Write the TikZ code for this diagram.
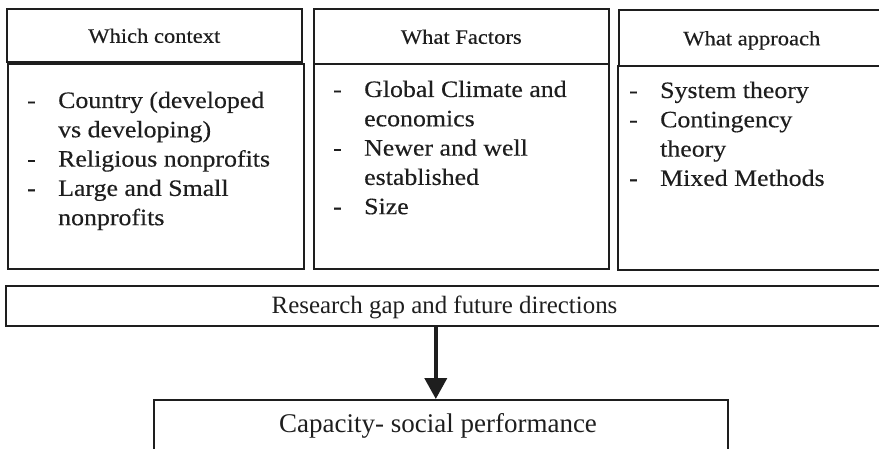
\documentclass[tikz,border=0pt]{standalone}
\usepackage{fontspec}
\setmainfont{Liberation Serif}
\newfontfamily\colfont{Liberation Serif}[FakeStretch=1.1,FakeBold=0.35]
\usetikzlibrary{arrows.meta}

\definecolor{ink}{HTML}{1E1E1E}

\tikzset{
  box/.style={draw=ink, line width=1.6pt, inner sep=0pt, anchor=north west},
  headtext/.style={font=\colfont\fontsize{20.5}{24}\selectfont, text=ink},
  listtext/.style={font=\colfont\fontsize{23.5}{29.3}\selectfont, text=ink,
                   inner sep=0pt, anchor=base west},
  bigtext/.style={text=ink, inner sep=0pt, anchor=base},
  arr/.style={draw=ink, line width=4pt, -{Triangle[width=22pt,length=21pt]}},
}

\begin{document}
\begin{tikzpicture}[x=1pt,y=-1pt]
  \useasboundingbox (0,0) rectangle (879,449);
  \clip (0,0) rectangle (879,449);

  % column headers
  \node[box, minimum width=295pt, minimum height=53pt, headtext,
        text height=15pt, text depth=0pt] (h1) at (6,8) {Which context};
  \node[box, minimum width=295pt, minimum height=55pt, headtext,
        text height=15pt, text depth=0pt] (h2) at (313,8) {What Factors};
  \node[box, minimum width=266pt, minimum height=56pt, headtext,
        text height=15pt, text depth=0pt] (h3) at (618,9) {What approach};

  % column bodies
  \node[box, minimum width=296pt, minimum height=205pt] (b1) at (7,63) {};
  \node[box, minimum width=295pt, minimum height=205pt] (b2) at (313,63) {};
  \node[box, minimum width=267pt, minimum height=204pt] (b3) at (617,65) {};

  % bullet lists
  \node[listtext] (l1) at (27,108) {%
    \begin{tabular}[t]{@{}p{31pt}@{}l@{}}
      - & Country (developed\\
        & vs developing)\\
      - & Religious nonprofits\\
      - & Large and Small\\
        & nonprofits
    \end{tabular}};
  \node[listtext] (l2) at (333,97) {%
    \begin{tabular}[t]{@{}p{31pt}@{}l@{}}
      - & Global Climate and\\
        & economics\\
      - & Newer and well\\
        & established\\
      - & Size
    \end{tabular}};
  \node[listtext] (l3) at (629,98) {%
    \begin{tabular}[t]{@{}p{31pt}@{}l@{}}
      - & System theory\\
      - & Contingency\\
        & theory\\
      - & Mixed Methods
    \end{tabular}};

  % summary and outcome
  \node[box, minimum width=879pt, minimum height=40pt] (gap) at (5,285) {};
  \node[bigtext, font=\fontsize{24.9}{30}\selectfont] (gapt) at (444.5,314)
        {Research gap and future directions};
  \node[box, minimum width=574pt, minimum height=60pt] (cap) at (153,399) {};
  \node[bigtext, font=\fontsize{27}{32}\selectfont] (capt) at (438,432)
        {Capacity- social performance};

  \draw[arr] ([xshift=-9.5pt]gap.south) -- ([xshift=-9.5pt]gap.south |- cap.north);
\end{tikzpicture}
\end{document}
